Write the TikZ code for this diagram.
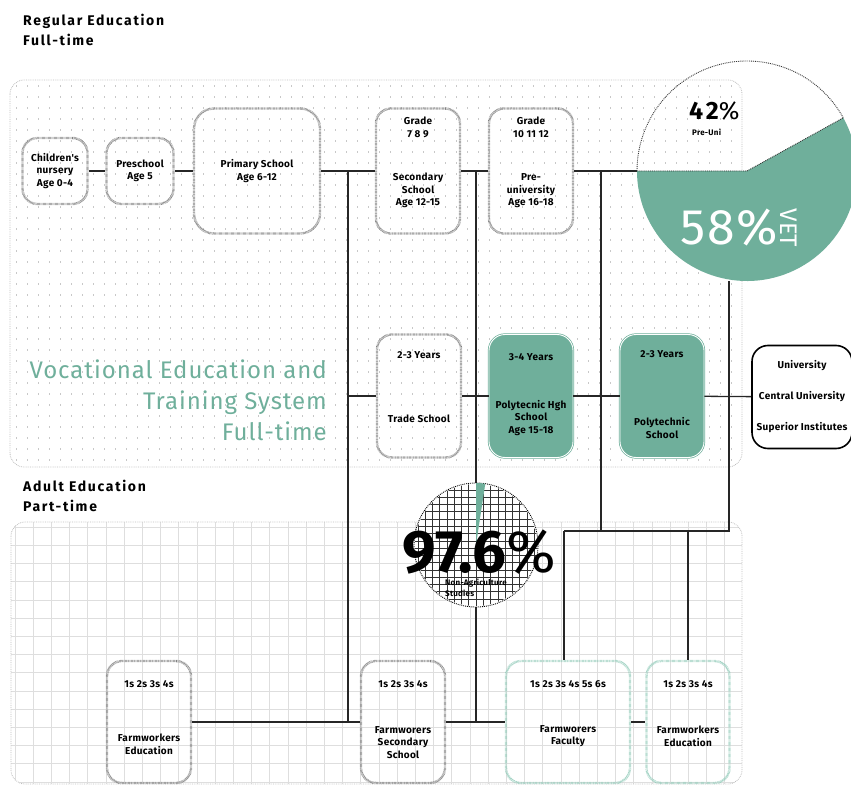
\documentclass[tikz,border=0pt]{standalone}
\usepackage{fontspec}
\setmainfont{Fira Sans}
\newfontfamily\headfont[LetterSpace=12]{Fira Sans}
\newfontfamily\titlefont[LetterSpace=4]{Fira Sans}
\newfontfamily\labelfont[LetterSpace=3]{Fira Sans}
\usetikzlibrary{calc,positioning}
\definecolor{vetgreen}{RGB}{111,175,155}
\definecolor{palegreen}{RGB}{150,205,188}
\definecolor{dotgrey}{RGB}{200,200,200}
\definecolor{gridgrey}{RGB}{222,222,222}

\begin{document}
\begin{tikzpicture}[x=1pt,y=-1pt,
  link/.style={line width=1.3pt,black!85},
  stage/.style={draw=black!50,line width=2.4pt,dash pattern=on 0.5pt off 0.7pt,rounded corners=15pt,minimum width=84pt,minimum height=125pt},
  adult/.style={stage,minimum height=122pt},
  adultvet/.style={adult,draw=palegreen},
  vet/.style={fill=vetgreen,draw=vetgreen,double=white,double distance=0.9pt,line width=0.7pt,rounded corners=16pt,minimum width=84pt,minimum height=123pt},
  tag/.style={font=\labelfont\bfseries\fontsize{10}{12.5}\selectfont,align=center,inner sep=0pt},
  panel/.style={draw=black!25,densely dotted,line width=0.8pt,rounded corners=14pt}]
\newcommand{\toptag}[3]{\node[tag] (#1top) at ($(#1.north)+(0,#2)$) {#3};}
\newcommand{\bottag}[3]{\node[tag] (#1name) at ($(#1.south)+(0,-#2)$) {#3};}
\useasboundingbox (0,0) rectangle (851,786);
\clip (0,0) rectangle (851,786);

% panels
\begin{scope}
\clip[rounded corners=14pt] (10,80) rectangle (742,467);
\foreach \y in {86,97,...,466}
  \draw[dotgrey,line width=1.2pt,dash pattern=on 1.2pt off 9.8pt] (16,\y) -- (742,\y);
\end{scope}
\begin{scope}
\clip[rounded corners=14pt] (11,522) rectangle (742,784);
\foreach \x in {15,33.2,...,743} \draw[gridgrey,line width=1pt] (\x,522) -- (\x,784);
\foreach \y in {527.2,545.4,...,784} \draw[gridgrey,line width=1pt] (11,\y) -- (742,\y);
\end{scope}
\draw[panel] (10,80) rectangle (742,467);
\draw[panel] (11,522) rectangle (742,784);

\node[anchor=north west,inner sep=0pt,align=left,font=\headfont\bfseries\fontsize{14}{20}\selectfont] (regularhead) at (23,14) {Regular Education\\Full-time};
\node[anchor=north west,inner sep=0pt,align=left,font=\headfont\bfseries\fontsize{14}{20}\selectfont] (adulthead) at (23,480) {Adult Education\\Part-time};
\node[anchor=north east,inner sep=0pt,align=right,text=vetgreen,font=\titlefont\fontsize{24}{31}\selectfont] (vettitle) at (327,360) {Vocational Education and\\Training System\\Full-time};

% schools
\node[stage,tag,minimum width=65pt,minimum height=66pt] (nursery) at (55,171) {Children's\\nursery\\Age 0-4};
\node[stage,tag,minimum width=67pt,minimum height=66pt] (preschool) at (140,171) {Preschool\\Age 5};
\node[stage,tag,minimum width=126pt,rounded corners=20pt] (primary) at (257,171) {Primary School\\Age 6-12};
\node[stage] (secondary) at (418,171) {};
\node[stage] (preuni) at (531,171) {};
\node[stage,minimum height=123pt] (trade) at (419,396) {};
\node[vet] (polyhigh) at (531,396) {};
\node[vet] (polytech) at (662,396) {};
\node[tag,draw,fill=white,line width=1.6pt,rounded corners=16pt,minimum width=100pt,minimum height=103pt,font=\labelfont\bfseries\fontsize{10}{31}\selectfont] (uni) at (802,397) {University\\Central University\\Superior Institutes};
\node[adult] (farmedu) at (149,722) {};
\node[adult] (farmsec) at (403,722) {};
\node[adultvet,minimum width=124pt] (faculty) at (568,722) {};
\node[adultvet,minimum width=83pt] (farmedu2) at (688,722) {};
\node[circle,minimum size=220pt,inner sep=0pt] (pie) at (747,171) {};

\toptag{secondary}{20}{Grade\\7 8 9}
\bottag{secondary}{44}{Secondary\\School\\Age 12-15}
\toptag{preuni}{20}{Grade\\10 11 12}
\bottag{preuni}{44}{Pre-\\university\\Age 16-18}
\toptag{trade}{22}{2-3 Years}
\bottag{trade}{40}{Trade School}
\toptag{polyhigh}{23}{3-4 Years}
\bottag{polyhigh}{40}{Polytecnic Hgh\\School\\Age 15-18}
\toptag{polytech}{20}{2-3 Years}
\bottag{polytech}{30}{Polytechnic\\School}
\toptag{farmedu}{24}{1s 2s 3s 4s}
\bottag{farmedu}{40}{Farmworkers\\Education}
\toptag{farmsec}{24}{1s 2s 3s 4s}
\bottag{farmsec}{42}{Farmworers\\Secondary\\School}
\toptag{faculty}{24}{1s 2s 3s 4s 5s 6s}
\bottag{faculty}{48}{Farmworers\\Faculty}
\toptag{farmedu2}{24}{1s 2s 3s 4s}
\bottag{farmedu2}{48}{Farmworkers\\Education}

% links
\draw[link] (nursery) -- (preschool);
\draw[link] (preschool) -- (primary);
\draw[link] (primary) -- (secondary);
\draw[link] (secondary) -- (preuni);
\draw[link] (preuni) -- (pie);
\draw[link] (trade) -- (polyhigh);
\draw[link] (polyhigh) -- (polytech);
\draw[link] (polytech) -- (uni);
\draw[link] (farmedu) -- (farmsec);
\draw[link] (farmsec) -- (faculty);
\draw[link] (faculty) -- (farmedu2);
\coordinate (atop) at (348,171);
\coordinate (btop) at (476,171);
\coordinate (ctop) at (601,171);
\coordinate (cbend) at (601,531);
\coordinate (dbend) at (729,531);
\coordinate (fjoin) at (564,531);
\coordinate (ejoin) at (688,531);
\draw[link] (atop) -- (atop |- farmedu.east);
\draw[link] (atop |- trade.west) -- (trade);
\draw[link] (btop) -- (btop |- farmsec.east);
\draw[link] (ctop) -- (cbend);
\draw[link] (fjoin) -- (dbend) -- (dbend |- pie.south);
\draw[link] (fjoin) -- (fjoin |- faculty.north);
\draw[link] (ejoin) -- (farmedu2);

% share of non-agriculture studies
\node[circle,draw,densely dotted,line width=0.9pt,fill=white,minimum size=124pt,inner sep=0pt] (share) at (476,545) {};
\begin{scope}
\clip (share.center) circle[radius=61];
\foreach \x in {403.3,410.57,...,550} \draw[black!80,line width=0.6pt] (\x,480) -- (\x,610);
\foreach \y in {482.7,489.97,...,610} \draw[black!80,line width=0.6pt] (410,\y) -- (540,\y);
\end{scope}
\fill[vetgreen] (share.center) -- ++(-90:62) arc[start angle=-90,end angle=-81.4,radius=62] -- cycle;
\node[anchor=base,inner sep=0pt,text depth=0pt,font=\bfseries\fontsize{60}{60}\selectfont] (shareval) at (479,572) {97.6{\mdseries\%}};
\node[anchor=north west,inner sep=0pt,align=left,font=\labelfont\bfseries\fontsize{8}{11}\selectfont] (sharename) at (445,579) {Non-Agriculture\\Studies};

% pre-uni / vet pie
\fill[vetgreen] (pie.center) -- ++(-28.9:110) arc[start angle=-28.9,end angle=180,radius=110] -- cycle;
\draw[black!80,densely dotted,line width=0.9pt] (pie.west) -- (pie.center) -- ++(-28.9:110) arc[start angle=-28.9,end angle=-180,radius=110];
\node[anchor=base west,inner sep=0pt,font=\headfont\bfseries\fontsize{25}{25}\selectfont] (preshare) at (689,120) {42{\mdseries\%}};
\node[anchor=base west,inner sep=0pt,font=\labelfont\bfseries\fontsize{8}{8}\selectfont] (prename) at (692,136) {Pre-Uni};
\node[anchor=base west,inner sep=0pt,text=white,font=\titlefont\fontsize{50}{50}\selectfont] (vetshare) at (680,245) {58\%};
\node[rotate=-90,inner sep=0pt,text=white,font=\fontsize{24}{24}\selectfont] (vetname) at (789,228) {VET};
\end{tikzpicture}
\end{document}
